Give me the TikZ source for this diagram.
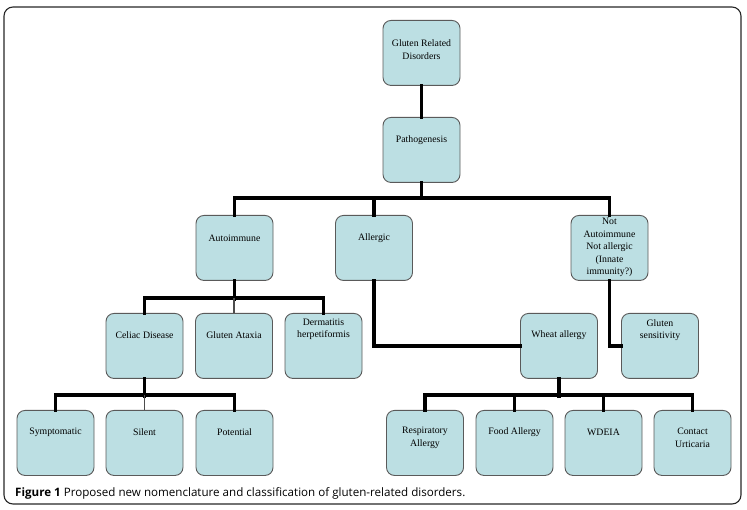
\documentclass[tikz,border=0pt]{standalone}
\usepackage{fontspec}
\setmainfont{Liberation Serif}
\newfontfamily\capfont{Open Sans}
\definecolor{boxfill}{HTML}{BCDFE3}
\definecolor{boxedge}{HTML}{5A5A5A}
\begin{document}
\begin{tikzpicture}[x=1pt,y=-1pt,
  box/.style={draw=boxedge,fill=boxfill,line width=0.9pt,rounded corners=8pt,
    minimum width=77pt,minimum height=65pt,inner sep=0pt,anchor=north},
  txt/.style={font=\fontsize{9.8}{12.5}\selectfont,align=center,inner sep=0pt},
  conn/.style={line width=3.6pt,line join=miter,line cap=rect},
  thin/.style={line width=1.5pt,draw=black!70}]
\useasboundingbox (0,0) rectangle (747,510);
\draw[line width=1.1pt,draw=black!85,rounded corners=9pt] (4,7) rectangle (741,504);
% boxes
\node[box] (grd) at (421.5,20) {};
\node[box] (pat) at (421.5,117) {};
\node[box] (aut) at (234.5,215) {};
\node[box] (all) at (374,215) {};
\node[box] (nau) at (609.5,215) {};
\node[box] (cel) at (144.5,313) {};
\node[box] (atx) at (234,313) {};
\node[box] (der) at (323.5,313) {};
\node[box] (wht) at (559,313) {};
\node[box] (gse) at (660,313) {};
\node[box] (sym) at (55.5,410) {};
\node[box] (sil) at (144.5,410) {};
\node[box] (pot) at (234.5,410) {};
\node[box] (res) at (425,410) {};
\node[box] (foo) at (514.5,410) {};
\node[box] (wde) at (603.5,410) {};
\node[box] (con) at (692.5,410) {};
% texts
\node[txt] (tgrd) at (421.5,49.5) {Gluten Related\\Disorders};
\node[txt] (tpat) at (421.5,140) {Pathogenesis};
\node[txt] (taut) at (234.5,238) {Autoimmune};
\node[txt] (tall) at (374,238) {Allergic};
\node[txt] (tnau) at (609.5,247.5) {Not\\Autoimmune\\Not allergic\\(Innate\\immunity?)};
\node[txt] (tcel) at (144.5,335) {Celiac Disease};
\node[txt] (tatx) at (234,335) {Gluten Ataxia};
\node[txt] (tder) at (323.5,329.5) {Dermatitis\\herpetiformis};
\node[txt] (twht) at (559,335) {Wheat allergy};
\node[txt] (tgse) at (660,330) {Gluten\\sensitivity};
\node[txt] (tsym) at (55.5,432) {Symptomatic};
\node[txt] (tsil) at (144.5,432) {Silent};
\node[txt] (tpot) at (234.5,432) {Potential};
\node[txt] (tres) at (425,438) {Respiratory\\Allergy};
\node[txt] (tfoo) at (514.5,432) {Food Allergy};
\node[txt] (twde) at (603.5,432) {WDEIA};
\node[txt] (tcon) at (692.5,438) {Contact\\Urticaria};
% caption
\node[anchor=west,inner sep=0pt,font=\capfont\fontsize{11.6}{13}\selectfont] (cap) at (15,493)
  {\textbf{Figure 1} Proposed new nomenclature and classification of gluten-related disorders.};
% connectors
\draw[conn] (grd.south) -- (pat.north);
\draw[conn] (pat.south) -- ++(0,15);
\draw[conn] (aut.north) -- ++(0,-17) -| (nau.north);
\draw[conn] (all.north) -- ++(0,-17);
\draw[conn] (aut.south) -- ++(0,18);
\draw[conn] (cel.north) -- ++(0,-15) -| (der.north);
\draw[thin] (atx.north) -- ++(0,-15);
\draw[conn] (all.south) |- (wht.west);
\draw[conn] (nau.south) |- (gse.west);
\draw[conn] (cel.south) -- ++(0,17);
\draw[conn] (sym.north) -- ++(0,-15) -| (pot.north);
\draw[thin] (sil.north) -- ++(0,-15);
\draw[conn] (wht.south) -- ++(0,17);
\draw[conn] (res.north) -- ++(0,-15) -| (con.north);
\draw[conn] (foo.north) -- ++(0,-15);
\draw[conn] (wde.north) -- ++(0,-15);
\end{tikzpicture}
\end{document}
